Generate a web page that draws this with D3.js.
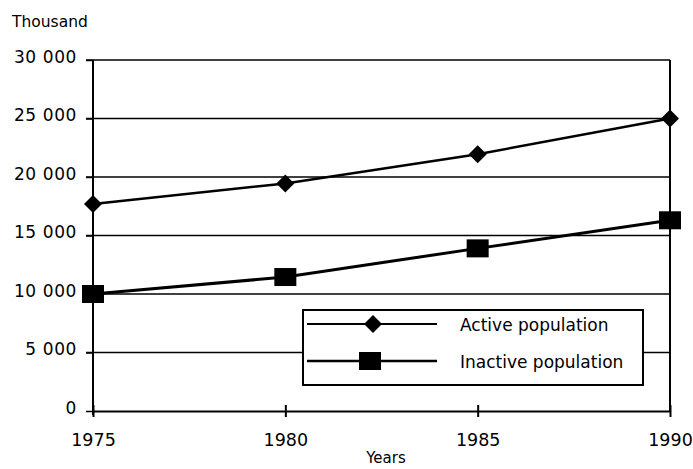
<!DOCTYPE html>
<html>
<head>
<meta charset="utf-8">
<script src="https://cdn.jsdelivr.net/npm/d3@7"></script>
<style>
  body { margin: 0; background: #fff; }
  text { font-family: "DejaVu Sans", sans-serif; fill: #000; }
</style>
</head>
<body>
<svg width="693" height="469"></svg>
<script>
// data
var years = [1975, 1980, 1985, 1990];
var active = [17700, 19450, 21950, 25000];
var inactive = [10000, 11450, 13900, 16300];
var y_ticks = [0, 5000, 10000, 15000, 20000, 25000, 30000];
var series_names = ["Active population", "Inactive population"];

// layout
var pad_left = 93, pad_right = 670, pad_top = 60, pad_bottom = 411;

var svg = d3.select("svg");
var x_scale = d3.scaleLinear().domain([1975, 1990]).range([pad_left, pad_right]);
var y_scale = d3.scaleLinear().domain([0, 30000]).range([pad_bottom, pad_top]);
var fmt = function(v){ return v === 0 ? "0" : d3.format(",")(v).replace(",", " "); };

// grid lines
svg.append("g").selectAll("line").data(y_ticks.slice(1)).enter()
  .append("line")
  .attr("x1", pad_left - 7).attr("x2", pad_right)
  .attr("y1", function(d){ return y_scale(d); }).attr("y2", function(d){ return y_scale(d); })
  .attr("stroke", "#000").attr("stroke-width", 1.5);

// y axis
var y_axis = d3.axisLeft(y_scale).tickValues(y_ticks).tickSize(7).tickFormat(fmt).tickPadding(9);
var gy = svg.append("g").attr("transform", "translate(" + pad_left + ",0)").call(y_axis);
gy.select(".domain").remove();
gy.selectAll(".tick line").attr("stroke-width", 1.5);
gy.selectAll(".tick text").attr("font-size", 17).attr("dy", "0.12em").attr("letter-spacing", 0.6);
svg.append("line").attr("x1", pad_left).attr("x2", pad_left)
  .attr("y1", pad_top).attr("y2", pad_bottom + 4)
  .attr("stroke", "#000").attr("stroke-width", 2);
// right border
svg.append("line").attr("x1", pad_right).attr("x2", pad_right)
  .attr("y1", pad_top).attr("y2", pad_bottom)
  .attr("stroke", "#000").attr("stroke-width", 2);

// x axis
var x_axis = d3.axisBottom(x_scale).tickValues(years).tickSize(0).tickFormat(d3.format("d")).tickPadding(23);
var gx = svg.append("g").attr("transform", "translate(0," + pad_bottom + ")").call(x_axis);
gx.select(".domain").attr("stroke-width", 2);
gx.selectAll(".tick text").attr("font-size", 17.5);
gx.selectAll(".tick").append("line").attr("y1", -6).attr("y2", 6)
  .attr("stroke", "#000").attr("stroke-width", 2);

// axis titles
svg.append("text").attr("x", 12).attr("y", 27).attr("font-size", 15.5).text("Thousand");
svg.append("text").attr("x", 386).attr("y", 463).attr("font-size", 15)
  .attr("text-anchor", "middle").text("Years");

// lines
var line = d3.line().x(function(d, i){ return x_scale(years[i]); }).y(function(d){ return y_scale(d); });
svg.append("path").datum(active).attr("d", line)
  .attr("fill", "none").attr("stroke", "#000").attr("stroke-width", 2.5);
svg.append("path").datum(inactive).attr("d", line)
  .attr("fill", "none").attr("stroke", "#000").attr("stroke-width", 3);

function draw_diamond(g, x, y){
  return g.append("path")
    .attr("d", "M" + x + "," + (y - 9) + "L" + (x + 9) + "," + y + "L" + x + "," + (y + 9) + "L" + (x - 9) + "," + y + "Z")
    .attr("fill", "#000");
}
function draw_square(g, x, y){
  return g.append("rect").attr("x", x - 11).attr("y", y - 9)
    .attr("width", 22).attr("height", 18).attr("fill", "#000");
}

var mk = svg.append("g");
active.forEach(function(d, i){ draw_diamond(mk, x_scale(years[i]), y_scale(d)); });
inactive.forEach(function(d, i){ draw_square(mk, x_scale(years[i]), y_scale(d)); });

// legend
var lg = svg.append("g");
lg.append("rect").attr("x", 303).attr("y", 310).attr("width", 340).attr("height", 75)
  .attr("fill", "#fff").attr("stroke", "#000").attr("stroke-width", 2);
var rows = [324, 361];
rows.forEach(function(ry, i){
  lg.append("line").attr("x1", 307).attr("x2", 437).attr("y1", ry).attr("y2", ry)
    .attr("stroke", "#000").attr("stroke-width", i === 0 ? 2 : 2.5);
  if(i === 0) draw_diamond(lg, 373, ry); else draw_square(lg, 370, ry);
  lg.append("text").attr("x", 460).attr("y", ry + 7).attr("font-size", 17).text(series_names[i]);
});
</script>
</body>
</html>
